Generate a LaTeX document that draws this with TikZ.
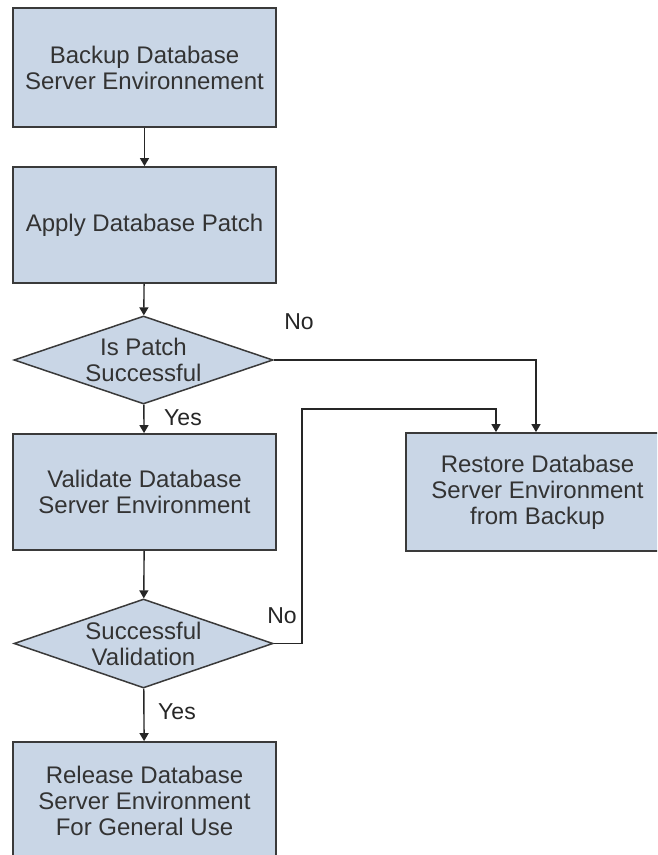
\documentclass[tikz,border=0pt]{standalone}
\usepackage{fontspec}
\setmainfont{Liberation Sans}
\usetikzlibrary{shapes.geometric,arrows.meta}
\definecolor{boxfill}{HTML}{C9D6E6}
\definecolor{boxline}{HTML}{3A3A3A}
\definecolor{txt}{HTML}{333333}
\tikzset{
  stepbox/.style={draw=boxline, line width=1.8pt, fill=boxfill, rectangle,
    minimum width=263pt, minimum height=117pt, inner sep=0pt, align=center,
    text=txt, font=\fontsize{24}{26}\selectfont},
  decision/.style={draw=boxline, line width=1.5pt, fill=boxfill, diamond, aspect=2.94,
    minimum width=259pt, minimum height=88pt, inner sep=0pt, align=center,
    text=txt, font=\fontsize{24}{26}\selectfont},
  conn/.style={draw=black!85, line width=1.4pt, -{Triangle[width=9pt,length=8pt]}},
  lbl/.style={text=black!85, font=\fontsize{23}{25}\selectfont, inner sep=0pt}
}
\begin{document}
\begin{tikzpicture}[x=1pt,y=-1pt]
\clip (0,0) rectangle (657,855);
\fill[white] (0,0) rectangle (657,855);
\node[stepbox, minimum height=119pt] (b1) at (144.5,67.5) {Backup Database\\Server Environnement};
\node[stepbox, minimum height=116pt] (b2) at (144.5,225) {Apply Database Patch};
\node[decision] (d1) at (143.5,360) {Is Patch\\Successful};
\node[stepbox, minimum height=116pt] (b3) at (144.5,492) {Validate Database\\Server Environment};
\node[decision, minimum height=89pt] (d2) at (143.5,643.5) {Successful\\Validation};
\node[stepbox] (b4) at (144.5,800.5) {Release Database\\Server Environment\\For General Use};
\node[stepbox, minimum height=118pt] (rs) at (537.5,492) {Restore Database\\Server Environment\\from Backup};
\coordinate (k1) at (302,409);
\draw[conn] (b1) -- (b2);
\draw[conn] (b2) -- (d1);
\draw[conn] (d1) -- (b3);
\draw[conn] (b3) -- (d2);
\draw[conn] (d2) -- (b4);
\draw[conn] (d1.east) -| ([xshift=-1.5pt]rs.north);
\draw[conn] (d2.east) -| (k1) -| ([xshift=-41.5pt]rs.north);
\node[lbl] (y1) at (183,418) {Yes};
\node[lbl] (y2) at (177,712) {Yes};
\node[lbl] (n1) at (299,322) {No};
\node[lbl] (n2) at (282,616) {No};
\end{tikzpicture}
\end{document}
